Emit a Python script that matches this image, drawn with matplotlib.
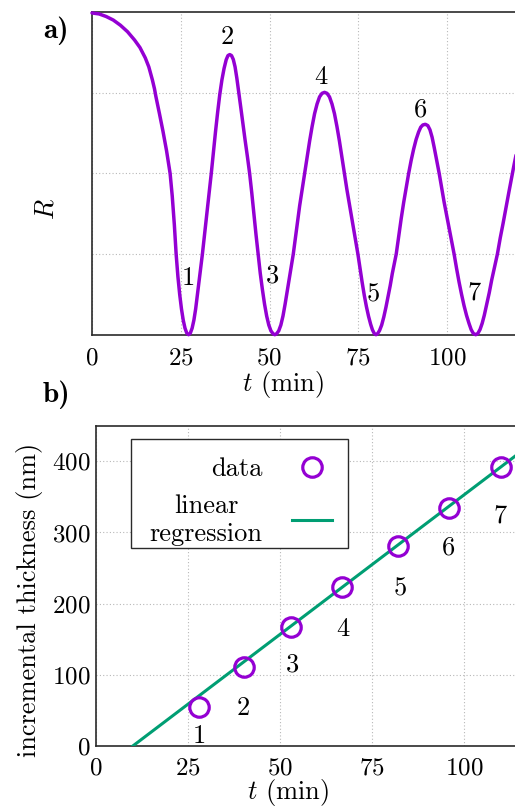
import numpy as np
import matplotlib
matplotlib.use("Agg")
import matplotlib.pyplot as plt
from matplotlib.patches import Rectangle

plt.rcParams['font.family'] = ['cmr10', 'DejaVu Serif']
plt.rcParams['mathtext.fontset'] = 'cm'
plt.rcParams['axes.unicode_minus'] = False
plt.rcParams['axes.formatter.use_mathtext'] = True

# ---------------- data: panel a (reflectance vs time) ----------------
t_curve = [0, 2, 4, 6, 8, 10, 12, 13.5, 15, 16, 17, 17.6, 18, 19, 20, 21, 22, 22.6, 23.2,
           23.7, 24.2, 24.7, 25.2, 25.7, 26.2, 26.7, 27.2,
           27.7, 28.2, 28.7, 29.2, 29.7, 30.2, 30.7, 31.1, 31.7, 32.4, 33.0, 33.6, 34.2,
           34.8, 35.4, 36.0, 36.6, 37.2, 37.8, 38.3, 38.8, 39.3, 39.8, 40.3, 40.8, 41.3,
           41.9, 42.5, 43.1, 43.8, 44.4, 45.0, 45.6, 46.2, 46.8, 47.4, 48.0, 48.6, 49.2,
           49.8, 50.4, 51.0, 51.5,
           52.0, 52.6, 53.2, 53.8, 54.4, 55.0, 55.6, 56.2, 56.7, 57.3, 57.9, 58.5, 59.2,
           59.9, 60.6, 61.3, 62.0, 62.7, 63.4, 64.1, 64.8, 65.5, 66.2, 66.9, 67.6, 68.3,
           69.0, 69.7, 70.4, 71.1, 71.8, 72.5, 73.2, 73.9, 74.4, 74.9, 75.5, 76.1, 76.7,
           77.3, 77.9, 78.5, 79.0, 79.5, 80.0,
           80.5, 81.0, 81.6, 82.2, 82.8, 83.4, 84.0, 84.6, 85.2, 85.7, 86.4, 87.1, 87.8,
           88.5, 89.2, 89.9, 90.6, 91.3, 92.0, 92.6, 93.2, 93.9, 94.6, 95.2, 95.8, 96.4,
           97.1, 97.8, 98.5, 99.2, 99.9, 100.6, 101.3, 102.0, 102.7, 103.4, 104.1, 104.8,
           105.5, 106.2, 106.8, 107.4, 108.1,
           108.7, 109.3, 109.9, 110.5, 111.2, 111.9, 112.6, 113.4, 114.2, 115.0, 115.8,
           116.6, 117.4, 118.2, 118.9, 119.6, 120.0]
R_curve = [0.997, 0.994, 0.986, 0.975, 0.959, 0.939, 0.913, 0.89, 0.858, 0.83, 0.79, 0.762,
           0.738, 0.685, 0.63, 0.57, 0.5, 0.43, 0.34, 0.25, 0.18, 0.125, 0.08, 0.045, 0.02,
           0.005, 0.0,
           0.005, 0.02, 0.045, 0.08, 0.125, 0.17, 0.215, 0.25, 0.31, 0.38, 0.44, 0.5, 0.565,
           0.63, 0.69, 0.745, 0.79, 0.825, 0.852, 0.865, 0.868, 0.865, 0.853, 0.83, 0.795,
           0.755, 0.705, 0.655, 0.605, 0.55, 0.5, 0.44, 0.375, 0.31, 0.25, 0.19, 0.14, 0.095,
           0.058, 0.03, 0.012, 0.003, 0.0,
           0.003, 0.012, 0.03, 0.058, 0.095, 0.135, 0.175, 0.215, 0.25, 0.3, 0.35, 0.4, 0.45,
           0.5, 0.55, 0.6, 0.645, 0.685, 0.715, 0.737, 0.748, 0.751, 0.748, 0.737, 0.715,
           0.685, 0.645, 0.6, 0.55, 0.5, 0.45, 0.405, 0.36, 0.315, 0.282, 0.25, 0.205, 0.162,
           0.122, 0.087, 0.057, 0.032, 0.015, 0.004, 0.0,
           0.004, 0.013, 0.03, 0.055, 0.085, 0.118, 0.152, 0.19, 0.222, 0.25, 0.305, 0.36,
           0.41, 0.455, 0.5, 0.54, 0.575, 0.605, 0.628, 0.643, 0.65, 0.652, 0.648, 0.635,
           0.612, 0.58, 0.54, 0.5, 0.455, 0.41, 0.37, 0.33, 0.29, 0.25, 0.205, 0.163, 0.125,
           0.09, 0.06, 0.035, 0.016, 0.004, 0.0,
           0.004, 0.016, 0.035, 0.06, 0.095, 0.13, 0.17, 0.21, 0.25, 0.3, 0.345, 0.393, 0.44,
           0.487, 0.527, 0.565, 0.585]

ext_labels = ['1', '2', '3', '4', '5', '6', '7']
ext_t = [27.2, 38.8, 51.5, 65.5, 80.0, 93.9, 108.1]
ext_R = [0.0, 0.868, 0.0, 0.751, 0.0, 0.652, 0.0]

a_xticks = [0, 25, 50, 75, 100]

# ---------------- data: panel b (incremental thickness) ----------------
pt_labels = ['1', '2', '3', '4', '5', '6', '7']
pt_t = [28.0, 40.1, 52.9, 66.8, 82.0, 95.9, 110.0]
pt_thick = [54.4, 111.5, 167.8, 223.6, 280.3, 334.3, 392.0]

fit_slope = 3.92        # nm / min
fit_intercept = -39.2   # nm
fit_t = [10.0, 120.0]

b_xticks = [0, 25, 50, 75, 100]
b_yticks = [0, 100, 200, 300, 400]

# ---------------- styles ----------------
PURPLE = '#9400D3'
GREEN = '#009E73'
SPINE = '#2a2a2a'
W, H = 515, 808

fig = plt.figure(figsize=(W / 100, H / 100), dpi=100)


def px_axes(left, top, right, bottom):
    return fig.add_axes([left / W, 1 - bottom / H, (right - left) / W, (bottom - top) / H])


def style(ax):
    for s in ax.spines.values():
        s.set_color(SPINE)
        s.set_linewidth(1.2)
    ax.tick_params(length=0, labelsize=18, colors='black')
    ax.grid(True, linestyle=(0, (1, 2)), color='#b8b8b8', linewidth=0.8)
    ax.set_axisbelow(True)


# ---- panel a ----
axa = px_axes(92, 12, 92 + 120 * 3.55, 334.7)
style(axa)
axa.plot(t_curve, R_curve, color=PURPLE, lw=2.5, solid_capstyle='round',
         solid_joinstyle='round', clip_on=False, zorder=3)
axa.set_xlim(0, 120)
axa.set_ylim(0, 1)
axa.set_xticks(a_xticks)
axa.set_yticks([0.25, 0.5, 0.75])
axa.set_yticklabels([])
axa.tick_params(axis='x', pad=9)
a_off = [(0, 57), (-2, 17), (-2, 59), (-4, 15), (-3, 40), (-5, 15), (-2, 42)]
for lab, tt, rr, (dx, dy) in zip(ext_labels, ext_t, ext_R, a_off):
    axa.annotate(lab, (tt, rr), xytext=(dx, dy), textcoords='offset pixels',
                 ha='center', va='center', fontsize=19, zorder=4)
axa.set_ylabel('$R$', fontsize=19)
axa.yaxis.set_label_coords(-0.078, 0.39)
axa.set_xlabel('$t$ (min)', fontsize=19)
axa.xaxis.set_label_coords(0.448, -0.105)

# ---- panel b ----
axb = px_axes(96, 425.7, 96 + 120 * 3.68, 746)
style(axb)
fit_y = [fit_slope * t + fit_intercept for t in fit_t]
axb.plot(fit_t, fit_y, color=GREEN, lw=2.2, zorder=3, label='linear\nregression')
axb.plot(pt_t, pt_thick, linestyle='none', marker='o', markersize=14, markerfacecolor='none',
         markeredgecolor=PURPLE, markeredgewidth=2.3, zorder=4, label='data')
axb.set_xlim(0, 120)
axb.set_ylim(0, 450)
axb.set_xticks(b_xticks)
axb.set_yticks(b_yticks)
axb.tick_params(axis='x', pad=8)
axb.tick_params(axis='y', pad=4)
b_off = [(0, -29), (0, -41), (2, -38), (1, -42), (2, -42), (0, -40), (-1, -49)]
for lab, tt, yy, (dx, dy) in zip(pt_labels, pt_t, pt_thick, b_off):
    axb.annotate(lab, (tt, yy), xytext=(dx, dy), textcoords='offset pixels',
                 ha='center', va='center', fontsize=19, zorder=4)
axb.set_ylabel('incremental thickness (nm)', fontsize=19)
axb.yaxis.set_label_coords(-0.121, 0.456)
axb.set_xlabel('$t$ (min)', fontsize=19)
axb.xaxis.set_label_coords(0.435, -0.098)

handles, labels = axb.get_legend_handles_labels()
leg = axb.legend(handles[::-1], labels[::-1], loc='upper left',
                 bbox_to_anchor=(0.0793, 0.9576), borderaxespad=0, markerfirst=False,
                 fontsize=19, handlelength=1.55, handletextpad=1.1, borderpad=0.7,
                 labelspacing=0.5, frameon=False)
leg.set_zorder(6)
for txt in leg.get_texts():
    txt.set_multialignment('center')
axb.add_patch(Rectangle((0.0793, 0.6172), 0.4907, 0.3403, transform=axb.transAxes,
                        facecolor='white', edgecolor=SPINE, linewidth=1.0, zorder=5))

fig.text(56 / W, 1 - 31 / H, 'a)', family='cmb10', fontsize=21, ha='center', va='center')
fig.text(56 / W, 1 - 395 / H, 'b)', family='cmb10', fontsize=21, ha='center', va='center')

fig.savefig('out.png', dpi=100)
